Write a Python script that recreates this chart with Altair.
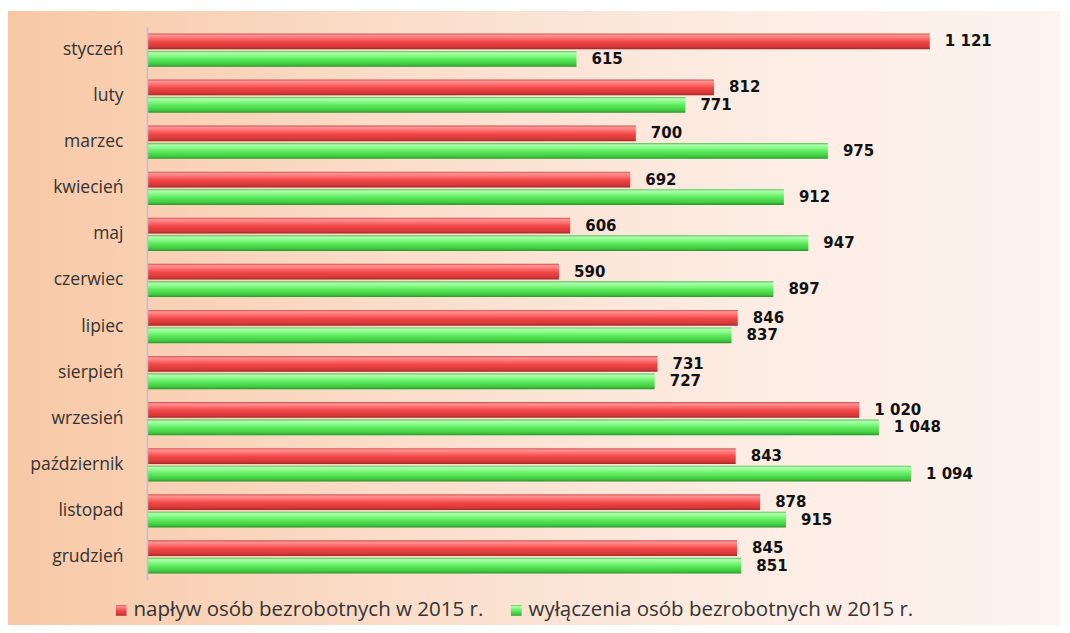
import altair as alt
import pandas as pd

months = ["styczeń", "luty", "marzec", "kwiecień", "maj", "czerwiec", "lipiec",
          "sierpień", "wrzesień", "październik", "listopad", "grudzień"]
naplyw = [1121, 812, 700, 692, 606, 590, 846, 731, 1020, 843, 878, 845]
wylaczenia = [615, 771, 975, 912, 947, 897, 837, 727, 1048, 1094, 915, 851]
series = ["napływ osób bezrobotnych w 2015 r.", "wyłączenia osób bezrobotnych w 2015 r."]

rows = []
for m, a, b in zip(months, naplyw, wylaczenia):
    rows.append({"month": m, "series": series[0], "value": a})
    rows.append({"month": m, "series": series[1], "value": b})
df = pd.DataFrame(rows)
df["label"] = df["value"].map(lambda v: f"{v:,}".replace(",", " "))

red_grad = ("{gradient:'linear',x1:0,y1:0,x2:0,y2:1,stops:["
            "{offset:0,color:'#d05050'},{offset:0.12,color:'#ff9494'},"
            "{offset:0.3,color:'#ff7070'},{offset:0.55,color:'#f04646'},"
            "{offset:0.85,color:'#d63838'},{offset:1,color:'#a02828'}]}")
green_grad = ("{gradient:'linear',x1:0,y1:0,x2:0,y2:1,stops:["
              "{offset:0,color:'#50c050'},{offset:0.12,color:'#b0ffb0'},"
              "{offset:0.3,color:'#86fa86'},{offset:0.55,color:'#5ae85a'},"
              "{offset:0.85,color:'#40c840'},{offset:1,color:'#289428'}]}")

bg = alt.Chart(alt.Data(values=[{}])).mark_rect(
    fill=alt.LinearGradient(
        gradient="linear", x1=0, y1=0, x2=1, y2=0,
        stops=[alt.GradientStop(offset=0, color="#f8c8a6"),
               alt.GradientStop(offset=0.35, color="#fadcc8"),
               alt.GradientStop(offset=0.7, color="#fcece3"),
               alt.GradientStop(offset=1, color="#fdf3ef")]),
).encode(x=alt.value(-140), x2=alt.value(913), y=alt.value(-16), y2=alt.value(600))

y_enc = alt.Y("month:N", sort=months, title=None,
              scale=alt.Scale(paddingInner=0.28, paddingOuter=0.14),
              axis=alt.Axis(domainColor="#b8c2d6", domainWidth=1.5, ticks=False, zindex=1,
                            labelFont="Open Sans", labelFontSize=17.5, labelColor="#333333",
                            labelPadding=24))
yoff = alt.YOffset("series:N", sort=series, scale=alt.Scale(paddingInner=0.1))
x_enc = alt.X("value:Q", scale=alt.Scale(domain=[0, 1200]), axis=None)

bars = alt.Chart(df).mark_bar(cornerRadius=0).encode(
    x=x_enc, y=y_enc, yOffset=yoff,
    color=alt.Color("series:N", sort=series,
                    scale=alt.Scale(domain=series,
                                    range=[alt.ExprRef(expr=red_grad), alt.ExprRef(expr=green_grad)]),
                    legend=alt.Legend(orient="none", legendX=-36, legendY=573, direction="horizontal",
                                      title=None, symbolType="square", symbolSize=115,
                                      symbolOpacity=1, symbolStrokeWidth=0, labelLimit=0,
                                      labelFont="Open Sans", labelFontSize=20.5, labelColor="#333333",
                                      labelOffset=2, columnPadding=22, zindex=1)),
)

labels = alt.Chart(df).mark_text(
    align="left", baseline="middle", dx=15, font="DejaVu Sans", fontWeight="bold",
    fontSize=15, color="#111111"
).encode(x=x_enc, y=alt.Y("month:N", sort=months), yOffset=yoff, text="label:N")

chart = alt.layer(bg, bars, labels).properties(
    width=838, height=553,
    autosize=alt.AutoSizeParams(type="none"),
    padding={"left": 139, "top": 19, "right": 77, "bottom": 45},
    background="white",
).configure_view(stroke=None)

chart.save("out.html", embed_options={"renderer": "svg", "actions": False})
